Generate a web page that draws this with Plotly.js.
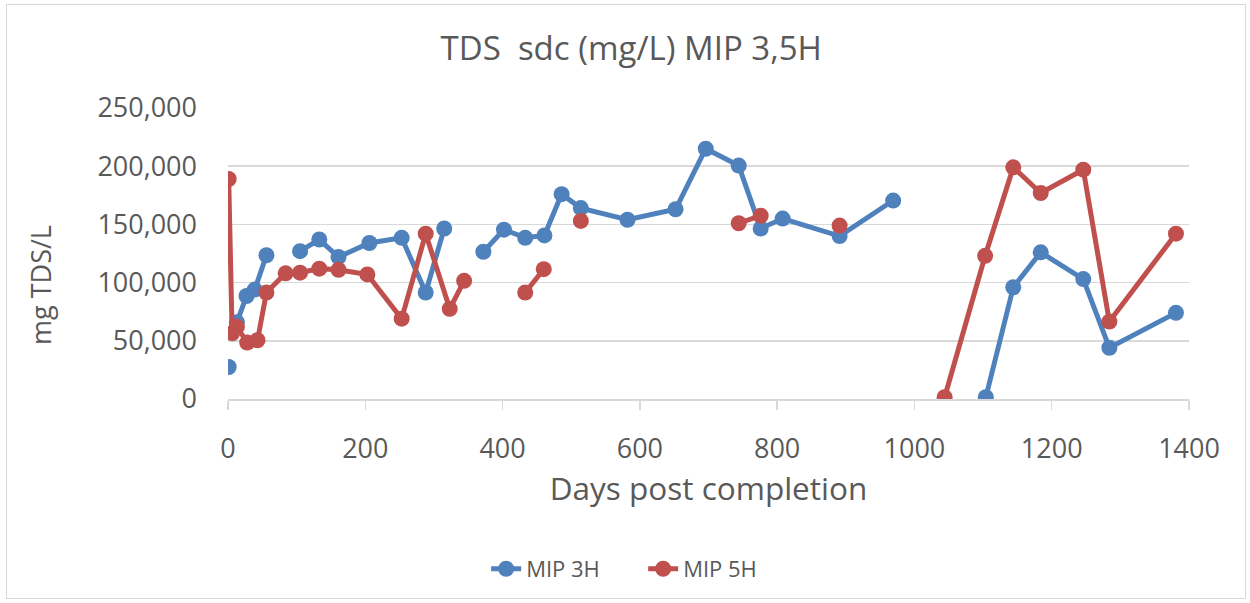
<!DOCTYPE html>
<html>
<head>
<meta charset="utf-8">
<script src="https://cdn.plot.ly/plotly-3.0.1.min.js"></script>
<style>
  html, body { margin: 0; padding: 0; background: #ffffff; }
  #chart { width: 1250px; height: 603px; }
  #frame { position: absolute; left: 6px; top: 4px; width: 1240px; height: 595px; border: 1.5px solid #d9d9d9; pointer-events: none; box-sizing: border-box; }
</style>
</head>
<body>
<div id="chart"></div>
<div id="frame"></div>
<script>
// MIP 3H (null = gap in the Excel series)
const daysMip3H = [1, null, 13, 27, 39, 56, null, 105, 133, 161, 206, 253, 288, 315, null, 372, 402, 433, 461, 486, 514, 582, 652, 696, 744, 776, 808, 891, 969, null, 1104, 1144, 1184, 1246, 1284, 1381];
const tdsMip3H  = [27500, null, 66000, 88500, 94000, 123500, null, 127000, 137000, 122000, 134000, 138500, 91500, 146500, null, 126500, 145500, 138500, 140500, 176000, 164000, 154000, 163000, 215000, 200500, 146500, 155000, 140000, 170500, null, 1500, 96000, 126000, 103000, 44000, 74000];

// MIP 5H
const daysMip5H = [1, 6, 13, 28, 43, 56, 84, 105, 133, 161, 203, 253, 288, 323, 344, null, 433, 460, null, 514, null, 744, 776, null, 891, null, 1044, 1103, 1144, 1184, 1246, 1284, 1381];
const tdsMip5H  = [189000, 56500, 62000, 48500, 50500, 91500, 108000, 108500, 112000, 111000, 107000, 69000, 142000, 77500, 101500, null, 91500, 111500, null, 153000, null, 151000, 157500, null, 149000, null, 1500, 123000, 199000, 177000, 197000, 66500, 142000];

const xTickVals = [0, 200, 400, 600, 800, 1000, 1200, 1400];
const yTickVals = [0, 50000, 100000, 150000, 200000, 250000];

const textColor = '#595959';
const gridColor = '#d9d9d9';
const fontFamily = '"Open Sans", "Noto Sans", sans-serif';

const traces = [
  {
    name: 'MIP 3H', x: daysMip3H, y: tdsMip3H, type: 'scatter', mode: 'lines+markers',
    connectgaps: false,
    line: { color: '#4F81BD', width: 5 },
    marker: { color: '#4F81BD', size: 16 }
  },
  {
    name: 'MIP 5H', x: daysMip5H, y: tdsMip5H, type: 'scatter', mode: 'lines+markers',
    connectgaps: false,
    line: { color: '#C0504D', width: 5 },
    marker: { color: '#C0504D', size: 16 }
  }
];

const layout = {
  width: 1250, height: 603,
  margin: { l: 228, r: 61, t: 108, b: 204 },
  paper_bgcolor: '#ffffff', plot_bgcolor: '#ffffff',
  font: { family: fontFamily, color: textColor },
  showlegend: true,
  title: {
    text: 'TDS\u00a0 sdc (mg/L) MIP 3,5H',
    font: { family: fontFamily, size: 33, color: textColor },
    xref: 'container', x: 0.505, xanchor: 'center',
    yref: 'container', y: 0.92, yanchor: 'middle'
  },
  xaxis: {
    range: [0, 1400], tickvals: xTickVals, ticktext: xTickVals.map(String),
    showgrid: false, zeroline: false,
    showline: true, linecolor: gridColor, linewidth: 1.5,
    ticks: 'outside', ticklen: 9, tickcolor: gridColor, tickwidth: 1.5,
    ticklabelstandoff: 16,
    tickfont: { family: fontFamily, size: 27, color: textColor },
    title: { text: 'Days post completion', font: { family: fontFamily, size: 31.5, color: textColor }, standoff: 13 }
  },
  yaxis: {
    range: [0, 250000], tickvals: yTickVals, tickformat: ',d',
    showgrid: true, gridcolor: gridColor, gridwidth: 1.5,
    zeroline: false, showline: false,
    ticks: '', ticklabelstandoff: 30,
    tickfont: { family: fontFamily, size: 27, color: textColor },
    title: { text: '' }
  },
  annotations: [{
    text: 'mg TDS/L', textangle: -90, showarrow: false,
    xref: 'paper', x: (40 - 228) / 961, xanchor: 'center',
    yref: 'paper', y: (399 - 285) / 291, yanchor: 'middle',
    font: { family: fontFamily, size: 27, color: textColor }
  }],
  legend: {
    orientation: 'h', x: 0.432, xanchor: 'center', y: -0.584, yanchor: 'middle',
    font: { family: fontFamily, size: 22, color: textColor },
    entrywidth: 112, entrywidthmode: 'pixels',
    bgcolor: 'rgba(0,0,0,0)'
  }
};

Plotly.newPlot('chart', traces, layout, { displayModeBar: false, staticPlot: true });
</script>
</body>
</html>
